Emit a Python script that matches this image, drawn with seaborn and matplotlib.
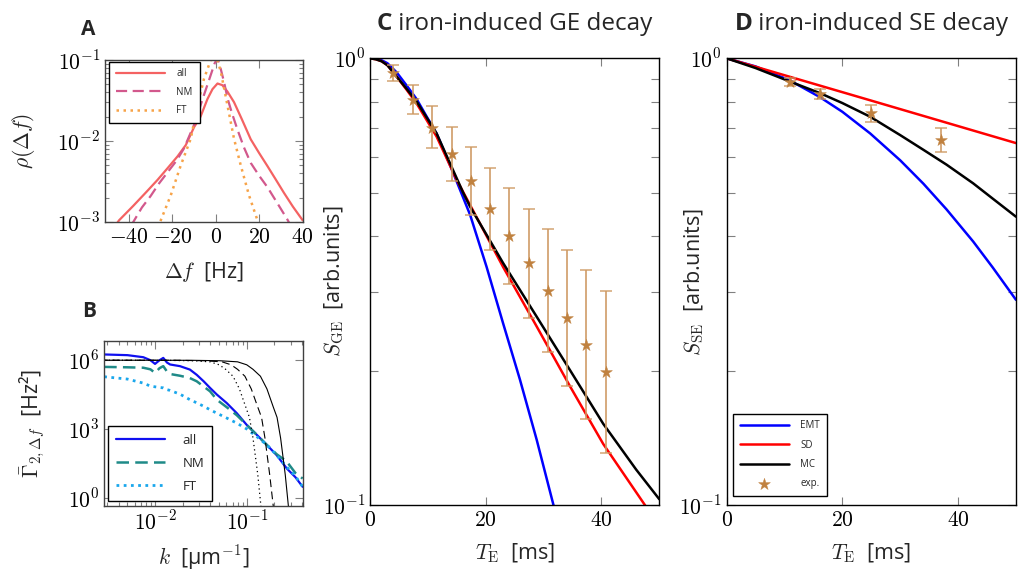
import numpy as np
import matplotlib
matplotlib.use("Agg")
import matplotlib.pyplot as plt
import seaborn as sns
from matplotlib.ticker import LogLocator, NullFormatter, NullLocator

# A: frequency distribution rho(df)
a_all_df = [-46, -44.5, -38, -32, -26.8, -22, -17.6, -13.8, -10, -7, -3.8, -1.5, 0.8, 3, 5.4, 8.4,
            12, 16.1, 20, 23.8, 27.5, 31.4, 35.5, 40]
a_all_rho = [0.00092, 0.00105, 0.00158, 0.00234, 0.00331, 0.00468, 0.00646, 0.00891, 0.0148, 0.0200,
             0.0331, 0.0437, 0.0513, 0.0490, 0.0407, 0.0302, 0.0186, 0.0105, 0.00708, 0.00490,
             0.00339, 0.00229, 0.00155, 0.00105]
a_nm_df = [-39, -37.5, -34, -30, -26, -22, -18, -14.6, -10, -7.5, -5.4, -3.5, -2, -0.5, 0.8, 2.2,
           3.8, 5.5, 7.5, 10, 13, 16.1, 20, 23.8, 28.4, 33, 34.5]
a_nm_rho = [0.00090, 0.00105, 0.00151, 0.00209, 0.00302, 0.00417, 0.00575, 0.00813, 0.0158, 0.0251,
            0.0372, 0.0525, 0.0692, 0.0912, 0.105, 0.0794, 0.0537, 0.0331, 0.0219, 0.0138,
            0.00832, 0.00537, 0.00372, 0.00269, 0.00170, 0.00107, 0.00090]
a_ft_df = [-26.5, -25.3, -20.7, -16.1, -11.5, -8.4, -5.4, -2.3, -1.0, 0.5, 2.3, 5.4, 8.4, 11.5, 15.3,
           19.2, 20.2]
a_ft_rho = [0.00085, 0.00105, 0.00214, 0.00501, 0.0107, 0.0275, 0.0589, 0.100, 0.117, 0.105, 0.0724,
            0.0275, 0.0107, 0.00501, 0.00214, 0.00105, 0.00085]

# B: power spectra
b_k = [0.00279, 0.00501, 0.00745, 0.00891, 0.0100, 0.0112, 0.0123, 0.0135, 0.0146, 0.0187, 0.0240,
       0.0285, 0.0339, 0.0398, 0.0471, 0.0605, 0.0778, 0.100, 0.129, 0.166, 0.212, 0.273, 0.339, 0.407]
b_all = [1.78e6, 1.66e6, 1.35e6, 1.0e6, 6.9e5, 1.0e6, 1.26e6, 7.9e5, 6.5e5, 5.5e5, 3.9e5, 2.3e5,
         1.2e5, 6.2e4, 3.2e4, 1.35e4, 4.9e3, 1.5e3, 550, 200, 72, 19, 7.9, 3.0]
b_nm = [5.1e5, 4.9e5, 4.7e5, 4.0e5, 2.8e5, 4.5e5, 5.5e5, 3.2e5, 2.5e5, 2.1e5, 1.66e5, 1.2e5,
        7.1e4, 4.4e4, 1.9e4, 8.9e3, 4.0e3, 1.5e3, 550, 200, 79, 38, 12, 6.9]
b_ft = [1.9e5, 1.5e5, 1.0e5, 7.4e4, 6.9e4, 6.5e4, 6.2e4, 5.2e4, 4.8e4, 3.3e4, 1.9e4, 1.38e4,
        9.8e3, 6.9e3, 4.9e3, 3.0e3, 1.8e3, 1.0e3, 460, 200, 72, 22, 8.9, 3.0]
b_th_gamma = [1.0e6, 9.9e5, 9.5e5, 8.5e5, 6.3e5, 4.0e5, 2.0e5, 5.6e4, 8.9e3, 3.2e3, 400, 10, 0.4]
b_th_k_solid = [0.00251, 0.0251, 0.0501, 0.0794, 0.100, 0.117, 0.141, 0.166, 0.195, 0.214, 0.234, 0.263, 0.285]
b_th_k_dash = [0.00251, 0.0170, 0.0339, 0.0537, 0.0676, 0.0794, 0.0955, 0.112, 0.132, 0.145, 0.158, 0.178, 0.195]
b_th_k_dot = [0.00251, 0.0126, 0.0251, 0.0398, 0.0501, 0.0589, 0.0708, 0.0832, 0.0977, 0.107, 0.117, 0.132, 0.143]

# C: gradient echo decay
c_emt_te = [0, 1, 2, 3, 4.6, 6.3, 8.06, 9.8, 11.5, 14.4, 17.3, 20.15, 23, 25.9, 28.8, 31.7, 33]
c_emt = [1.0, 0.998, 0.99, 0.975, 0.93, 0.87, 0.81, 0.74, 0.679, 0.553, 0.446, 0.341, 0.255, 0.191,
         0.140, 0.100, 0.084]
c_sd_te = [0, 1, 2, 3, 4.6, 6.3, 8.06, 11.5, 14.96, 17.27, 23, 28.8, 34.6, 40.3, 47.5, 49]
c_sd = [1.0, 0.995, 0.985, 0.965, 0.91, 0.851, 0.792, 0.668, 0.535, 0.470, 0.341, 0.251, 0.184,
        0.137, 0.100, 0.093]
c_mc_te = [0, 1, 2, 3, 4.6, 6.3, 8.06, 11.5, 16.1, 17.27, 23, 28.8, 34.6, 40.3, 46, 50]
c_mc = [1.0, 0.995, 0.985, 0.965, 0.91, 0.855, 0.80, 0.679, 0.50, 0.466, 0.348, 0.264, 0.200,
        0.152, 0.120, 0.103]
c_exp_te = [4.03, 7.5, 10.77, 14.1, 17.45, 20.8, 24.1, 27.4, 30.75, 34.1, 37.4, 40.7]
c_exp = [0.926, 0.807, 0.700, 0.611, 0.530, 0.460, 0.400, 0.348, 0.302, 0.262, 0.228, 0.198]
c_exp_hi = [0.966, 0.871, 0.783, 0.703, 0.634, 0.569, 0.513, 0.460, 0.414, 0.372, 0.335, 0.301]
c_exp_lo = [0.891, 0.750, 0.631, 0.530, 0.445, 0.373, 0.313, 0.262, 0.220, 0.185, 0.156, 0.131]

# D: spin echo decay
d_emt_te = [0, 5, 10.94, 16.1, 20, 24.8, 30, 34, 38, 42.6, 46, 50]
d_emt = [1.0, 0.959, 0.892, 0.819, 0.759, 0.679, 0.591, 0.524, 0.459, 0.389, 0.340, 0.288]
d_sd_te = [0, 25, 50]
d_sd = [1.0, 0.804, 0.646]
d_mc_te = [0, 5, 10.94, 16.1, 20, 24.8, 30, 34, 38, 42.6, 46, 50]
d_mc = [1.0, 0.951, 0.887, 0.836, 0.794, 0.740, 0.673, 0.624, 0.578, 0.525, 0.485, 0.442]
d_exp_te = [10.94, 16.1, 24.9, 37.0]
d_exp = [0.887, 0.832, 0.753, 0.656]
d_exp_hi = [0.902, 0.853, 0.786, 0.700]
d_exp_lo = [0.867, 0.809, 0.721, 0.617]

sns.set_theme(style="ticks")
plt.rcParams["font.family"] = ["Open Sans", "DejaVu Sans"]
plt.rcParams["mathtext.fontset"] = "cm"

TICK = 15.5
LAB = 15.5
EXP_COL = "#c0813f"


def style_axes(ax, spine_col, major_len, minor_len):
    for s in ax.spines.values():
        s.set_color(spine_col)
        s.set_linewidth(1.0)
    ax.tick_params(which="both", direction="in", top=True, right=True, color="#808080",
                   labelsize=TICK, width=0.8, labelcolor="black")
    ax.tick_params(which="major", length=major_len)
    ax.tick_params(which="minor", length=minor_len)


def line(ax, x, y, col, lw, ls="-", label=None):
    sns.lineplot(x=x, y=y, ax=ax, color=col, lw=lw, linestyle=ls, label=label,
                 sort=False, estimator=None)


fig = plt.figure(figsize=(10.18, 5.75), dpi=100)
axA = fig.add_axes([0.1031, 0.6139, 0.1942, 0.2817])
axB = fig.add_axes([0.1022, 0.1200, 0.1952, 0.2870])
axC = fig.add_axes([0.3635, 0.1217, 0.2842, 0.7769])
axD = fig.add_axes([0.7138, 0.1217, 0.2842, 0.7769])

# ---- A
axA.set_yscale("log")
line(axA, a_all_df, a_all_rho, "#f46262", 1.6, "-", "all")
line(axA, a_nm_df, a_nm_rho, "#d2588c", 1.6, (0, (5, 2.5)), "NM")
line(axA, a_ft_df, a_ft_rho, "#f7a348", 1.8, (0, (1, 1.8)), "FT")
axA.set_xlim(-51, 40)
axA.set_ylim(1e-3, 1e-1)
axA.set_xticks([-40, -20, 0, 20, 40], labels=["$-40$", "$-20$", "$0$", "$20$", "$40$"])
axA.set_yticks([1e-3, 1e-2, 1e-1], labels=["$10^{-3}$", "$10^{-2}$", "$10^{-1}$"])
axA.yaxis.set_minor_locator(LogLocator(base=10, subs=[2, 3, 4, 5, 6, 7, 8, 9]))
axA.yaxis.set_minor_formatter(NullFormatter())
axA.xaxis.set_minor_locator(NullLocator())
style_axes(axA, "#404040", 6, 3)
axA.set_xlabel("$\\Delta f$  [Hz]", fontsize=LAB, labelpad=9)
axA.set_ylabel("$\\rho(\\Delta f)$", fontsize=LAB)
axA.yaxis.set_label_coords(-0.344, 0.5)
leg = axA.legend(loc="upper left", bbox_to_anchor=(0.022, 0.99), borderaxespad=0, fontsize=7,
                 fancybox=False, edgecolor="black", framealpha=1, handlelength=5,
                 labelspacing=0.75, borderpad=0.7, handletextpad=1.2)
leg.get_frame().set_linewidth(1.0)

# ---- B
axB.set_xscale("log")
axB.set_yscale("log")
line(axB, b_k, b_all, "#1010f0", 1.6, "-", "all")
line(axB, b_k, b_nm, "#1f8a88", 1.8, (0, (5, 2.5)), "NM")
line(axB, b_k, b_ft, "#1aa7ec", 2.0, (0, (1, 1.6)), "FT")
line(axB, b_th_k_solid, b_th_gamma, "black", 0.8, "-")
line(axB, b_th_k_dash, b_th_gamma, "black", 0.8, (0, (7, 4)))
line(axB, b_th_k_dot, b_th_gamma, "black", 0.9, (0, (1, 2.5)))
axB.set_xlim(2.78e-3, 0.408)
axB.set_ylim(0.436, 6.9e6)
axB.set_xticks([1e-2, 1e-1], labels=["$10^{-2}$", "$10^{-1}$"])
axB.set_yticks([1e0, 1e3, 1e6], labels=["$10^{0}$", "$10^{3}$", "$10^{6}$"])
axB.xaxis.set_minor_locator(LogLocator(base=10, subs=[2, 3, 4, 5, 6, 7, 8, 9]))
axB.xaxis.set_minor_formatter(NullFormatter())
axB.yaxis.set_minor_locator(NullLocator())
style_axes(axB, "#404040", 6, 3)
axB.set_xlabel("$k$  [μm$^{-1}$]", fontsize=LAB, labelpad=6)
axB.set_ylabel("$\\bar{\\Gamma}_{2,\\Delta f}$  [Hz²]", fontsize=LAB)
axB.yaxis.set_label_coords(-0.288, 0.5)
leg = axB.legend(loc="lower left", bbox_to_anchor=(0.022, 0.032), borderaxespad=0, fontsize=9.5,
                 fancybox=False, edgecolor="black", framealpha=1, handlelength=3.7,
                 labelspacing=0.75, borderpad=0.6, handletextpad=1.3)
leg.get_frame().set_linewidth(1.0)


# ---- C and D
def decay_panel(ax, emt, sd, mc, exp, label_x, ylab, with_legend):
    ax.set_yscale("log")
    line(ax, emt[0], emt[1], "#0000ff", 1.8, "-", "EMT")
    line(ax, sd[0], sd[1], "#ff0000", 1.8, "-", "SD")
    line(ax, mc[0], mc[1], "black", 1.8, "-", "MC")
    te, s, hi, lo = [np.array(v) for v in exp]
    ax.errorbar(te, s, yerr=[s - lo, hi - s], fmt="none", ecolor="#cf9a63", elinewidth=1.3,
                capsize=4.5, capthick=1.1, alpha=0.9, zorder=4)
    sns.scatterplot(x=te, y=s, ax=ax, marker="*", s=80, color=EXP_COL, edgecolor=EXP_COL,
                    linewidth=0.3, zorder=5, label="exp.")
    ax.set_xlim(0, 50)
    ax.set_ylim(0.1, 1.0)
    ax.set_xticks([0, 20, 40], labels=["$0$", "$20$", "$40$"])
    ax.set_yticks([0.1, 1.0], labels=["$10^{-1}$", "$10^{0}$"])
    ax.yaxis.set_minor_locator(LogLocator(base=10, subs=[2, 3, 4, 5, 6, 7, 8, 9]))
    ax.yaxis.set_minor_formatter(NullFormatter())
    ax.xaxis.set_minor_locator(NullLocator())
    style_axes(ax, "black", 5.5, 5.5)
    ax.set_xlabel("$T_\\mathrm{E}$  [ms]", fontsize=LAB, labelpad=8)
    ax.set_ylabel(ylab, fontsize=LAB)
    ax.yaxis.set_label_coords(label_x, 0.5)
    if with_legend:
        leg = ax.legend(loc="lower left", bbox_to_anchor=(0.023, 0.02), borderaxespad=0,
                        fontsize=7, fancybox=False, edgecolor="black", framealpha=1,
                        handlelength=5, labelspacing=0.85, borderpad=0.7, handletextpad=1.2)
        leg.get_frame().set_linewidth(1.0)
    else:
        ax.get_legend().remove()


decay_panel(axC, (c_emt_te, c_emt), (c_sd_te, c_sd), (c_mc_te, c_mc),
            (c_exp_te, c_exp, c_exp_hi, c_exp_lo), -0.083, "$S_\\mathrm{GE}$  [arb.units]", False)
decay_panel(axD, (d_emt_te, d_emt), (d_sd_te, d_sd), (d_mc_te, d_mc),
            (d_exp_te, d_exp, d_exp_hi, d_exp_lo), -0.07, "$S_\\mathrm{SE}$  [arb.units]", True)


def panel_title(ax, x, letter, rest):
    t = ax.text(x, 1.064, letter, transform=ax.transAxes, fontsize=17.5, fontweight="bold",
                va="baseline", ha="left")
    ax.annotate(rest, xy=(1, 0), xycoords=t, va="bottom", ha="left", fontsize=17.5)


panel_title(axC, 0.024, "C", " iron-induced GE decay")
panel_title(axD, 0.027, "D", " iron-induced SE decay")
fig.text(88.5 / 1018, 1 - 35 / 575, "A", fontsize=15, fontweight="bold", ha="center", va="baseline")
fig.text(89.5 / 1018, 1 - 316.7 / 575, "B", fontsize=15, fontweight="bold", ha="center", va="baseline")

fig.savefig("out.png", dpi=100)
